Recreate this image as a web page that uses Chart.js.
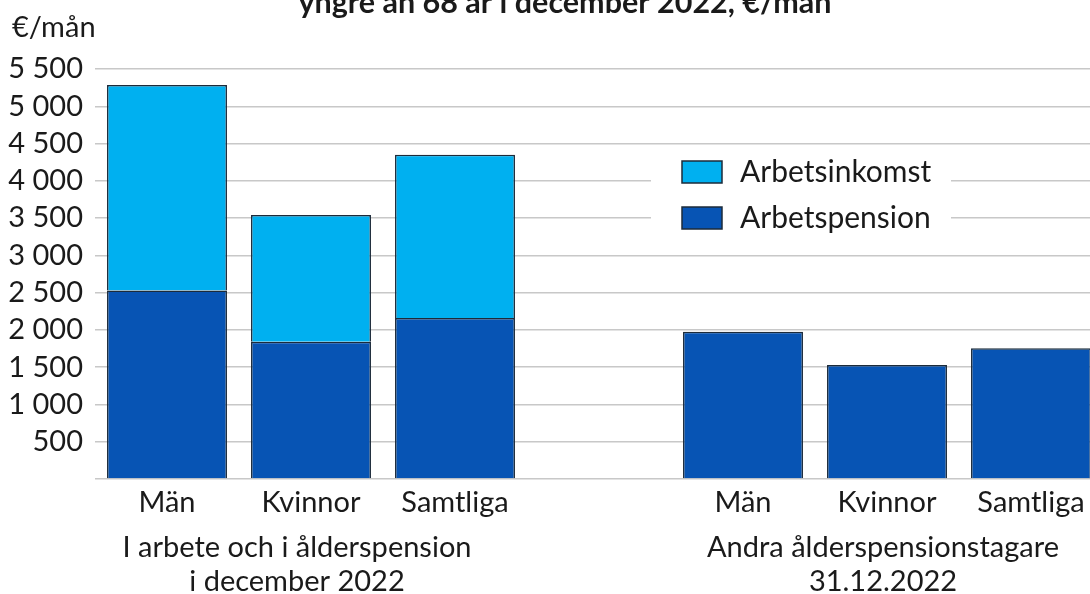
<!DOCTYPE html>
<html><head><meta charset="utf-8">
<script src="https://cdn.jsdelivr.net/npm/chart.js@4.4.1/dist/chart.umd.min.js"></script>
<style>html,body{margin:0;padding:0;background:#fff;overflow:hidden;width:1090px;height:594px}canvas{display:block}</style>
</head><body><canvas id="c" width="1103" height="594"></canvas>
<script>
const categories = ['Män','Kvinnor','Samtliga','','Män','Kvinnor','Samtliga'];
const arbetspension = [2530,1840,2160,null,1975,1530,1755];
const arbetsinkomst = [2755,1700,2190,null,null,null,null];
const groupLabels = [['I arbete och i ålderspension','i december 2022'],['Andra ålderspensionstagare','31.12.2022']];
const groupRanges = [[0,2],[4,6]];
const titleText = 'yngre än 68 år i december 2022, €/mån';
const unitLabel = '€/mån';
const yMax = 5500, yStep = 500;

const FONT = 'Lato';
const FS = 29;
const TXT = '#1a1a1a';
const LIGHT = '#00b0f0', DARK = '#0754b4', EDGE = '#1c2b3a';

function fmt(v){ if(v===0) return ''; const s=String(v); return s.length>3 ? s.slice(0,-3)+' '+s.slice(-3) : s; }

const overlay = {
  id:'overlay',
  afterDatasetsDraw(chart){
    const ctx = chart.ctx, x = chart.scales.x;
    ctx.save();
    ctx.fillStyle = TXT;
    // title (cut at top)
    ctx.font = 'bold 30.5px '+FONT; ctx.textAlign='center'; ctx.textBaseline='alphabetic';
    ctx.fillText(titleText, 565, 13);
    // unit
    ctx.font = FS+'px '+FONT; ctx.textAlign='left';
    ctx.fillText(unitLabel, 12, 37);
    // group labels
    const offs=[-14,-4];
    groupRanges.forEach((r,i)=>{
      const cx = (x.getPixelForValue(r[0])+x.getPixelForValue(r[1]))/2 + offs[i];
      ctx.textAlign='center';
      ctx.fillText(groupLabels[i][0], cx, 557);
      ctx.fillText(groupLabels[i][1], cx, 591);
    });
    // legend
    ctx.fillStyle='#fff'; ctx.fillRect(651,150,300,82);
    const ds = chart.data.datasets;
    const order=[1,0]; const ys=[172,218];
    ctx.font = '30px '+FONT;
    order.forEach((di,k)=>{
      const d=ds[di];
      ctx.fillStyle=d.backgroundColor; ctx.fillRect(682,ys[k]-11,40,22);
      ctx.strokeStyle=EDGE; ctx.lineWidth=1.5; ctx.strokeRect(682,ys[k]-11,40,22);
      ctx.fillStyle=TXT; ctx.textAlign='left'; ctx.textBaseline='middle';
      ctx.fillText(d.label, 740, ys[k]);
    });
    ctx.restore();
  }
};

new Chart(document.getElementById('c'), {
  type:'bar',
  data:{ labels:categories, datasets:[
    {label:'Arbetspension', data:arbetspension, backgroundColor:DARK, borderColor:EDGE, borderWidth:1.5},
    {label:'Arbetsinkomst', data:arbetsinkomst, backgroundColor:LIGHT, borderColor:EDGE, borderWidth:1.5}
  ]},
  options:{
    responsive:false, animation:false, devicePixelRatio:1,
    layout:{padding:{top:69,left:0,right:0,bottom:0}},
    categoryPercentage:1, barPercentage:0.833,
    plugins:{legend:{display:false}, title:{display:false}, tooltip:{enabled:false}},
    scales:{
      x:{stacked:true, grid:{display:false}, border:{display:false},
         ticks:{color:TXT, font:{family:FONT,size:FS}, padding:-2, maxRotation:0, autoSkip:false},
         afterFit(s){ s.height = 115; }},
      y:{stacked:true, min:0, max:yMax, border:{display:false},
         grid:{color:'#c8c8c8', lineWidth:1.5, drawTicks:false},
         ticks:{stepSize:yStep, autoSkip:false, color:TXT, font:{family:FONT,size:FS,lineHeight:1}, padding:12, callback:v=>fmt(v)},
         afterFit(s){ s.width = 95; }}
    }
  },
  plugins:[overlay]
});
</script></body></html>
